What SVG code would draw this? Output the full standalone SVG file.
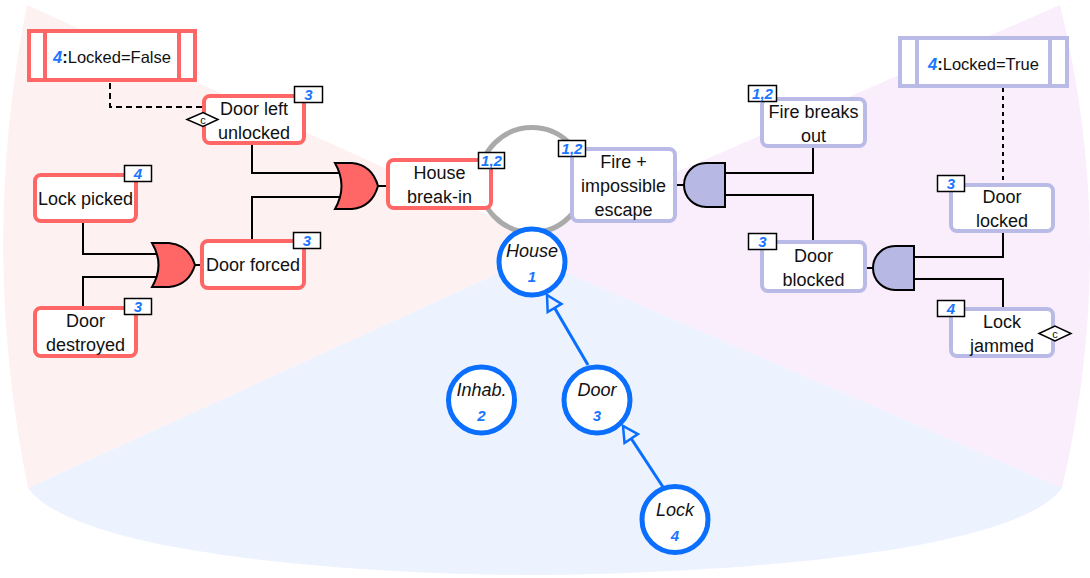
<svg xmlns="http://www.w3.org/2000/svg" width="1090" height="578" viewBox="0 0 1090 578">
<defs>
<style>
.txt{font-family:"Liberation Sans",Arial,sans-serif;font-size:18px;fill:#111;text-anchor:middle}
.red{fill:#fff;stroke:#ff6666;stroke-width:4}
.lav{fill:#fff;stroke:#babae6;stroke-width:4}
.badge{fill:#fff;stroke:#000;stroke-width:1.5}
.bt{font-family:"Liberation Sans",Arial,sans-serif;font-size:15px;font-weight:bold;font-style:italic;fill:#1a75ff;text-anchor:middle}
.wire{fill:none;stroke:#000;stroke-width:2}
.ent{fill:#fff;stroke:#0a6eff;stroke-width:5}
.et{font-family:"Liberation Sans",Arial,sans-serif;font-size:18px;font-style:italic;fill:#111;text-anchor:middle}
.en{font-family:"Liberation Sans",Arial,sans-serif;font-size:15px;font-weight:bold;font-style:italic;fill:#1a75ff;text-anchor:middle}
.dia{fill:#fff;stroke:#000;stroke-width:1.5}
.ct{font-family:"Liberation Sans",Arial,sans-serif;font-size:11px;fill:#111;text-anchor:middle}
</style>
<marker id="tri" viewBox="0 0 20 20" refX="17" refY="10" markerWidth="20" markerHeight="20" markerUnits="userSpaceOnUse" orient="auto">
<path d="M17,10 L2,2 L2,18 Z" fill="#ebf2fe" stroke="#0a6eff" stroke-width="2.5" stroke-linejoin="miter"/>
</marker>
</defs>
<g id="background">
<path d="M532,235 L27,5 Q-21,246 28,488 L532,258 Z" fill="#fef1f1"/>
<path d="M532,235 L1060,5 Q1119,246 1062,488 L532,258 Z" fill="#faeefd"/>
<path d="M532,258 L28,488 C80,560 400,575 532,575 C664,575 1010,560 1062,488 Z" fill="#ecf2fe"/>
<circle cx="532" cy="180" r="52.5" fill="#fff" stroke="#aaaaaa" stroke-width="5"/>
</g>
<g id="connectors">
<path class="wire" d="M252,145 V173 H341"/>
<path class="wire" d="M252,239 V197 H341"/>
<path class="wire" d="M378,186 H388"/>
<path class="wire" d="M83,223 V254 H158"/>
<path class="wire" d="M83,306 V277 H158"/>
<path class="wire" d="M195,265 H202"/>
<path class="wire" d="M813,148 V173 H725"/>
<path class="wire" d="M813,240 V195 H725"/>
<path class="wire" d="M675,185 H684"/>
<path class="wire" d="M1003,233 V257 H914"/>
<path class="wire" d="M1003,307 V279 H914"/>
<path class="wire" d="M865,268 H873"/>
<path d="M110,83 V107 H202" fill="none" stroke="#000" stroke-width="2" stroke-dasharray="6 4"/>
<path d="M1003,88 V183" fill="none" stroke="#000" stroke-width="2" stroke-dasharray="4 4"/>
<line x1="588" y1="365" x2="547" y2="295" stroke="#0a6eff" stroke-width="3" marker-end="url(#tri)"/>
<line x1="663" y1="487" x2="623" y2="426" stroke="#0a6eff" stroke-width="3" marker-end="url(#tri)"/>
</g>
<g id="gate-or-top">
<path d="M335,163 L352,163 Q372,165 378,186 Q372,207 352,209 L335,209 Q348,186 335,163 Z" fill="#ff6666" stroke="#000" stroke-width="2"/>
</g>
<g id="gate-or-bottom">
<path d="M152,243 L169,243 Q189,245 195,265 Q189,285 169,287 L152,287 Q165,265 152,243 Z" fill="#ff6666" stroke="#000" stroke-width="2"/>
</g>
<g id="gate-and-top">
<path d="M725,163 L706,163 A22,22 0 0 0 706,207 L725,207 Z" fill="#b8b8e4" stroke="#000" stroke-width="2"/>
</g>
<g id="gate-and-bottom">
<path d="M914,246 L895,246 A22,22 0 0 0 895,290 L914,290 Z" fill="#b8b8e4" stroke="#000" stroke-width="2"/>
</g>
<g id="cond-locked-false">
<rect x="29" y="31" width="166" height="49" fill="#fff" stroke="#ff6666" stroke-width="4"/>
<line x1="45" y1="31" x2="45" y2="80" stroke="#ff6666" stroke-width="4"/>
<line x1="179" y1="31" x2="179" y2="80" stroke="#ff6666" stroke-width="4"/>
<text x="112" y="63" class="txt" style="font-size:16.5px"><tspan font-weight="bold" font-style="italic" fill="#1a75ff">4</tspan><tspan font-weight="bold">:</tspan>Locked=False</text>
</g>
<g id="door-left-unlocked">
<rect x="204" y="96" width="100" height="47" rx="6" class="red"/>
<text x="254" y="115" class="txt">Door left</text>
<text x="254" y="139" class="txt">unlocked</text>
<rect x="294.5" y="86.5" width="28" height="16" class="badge"/>
<text x="308.5" y="100" class="bt">3</text>
<polygon points="187,119.5 203,112.5 218,119.5 203,126.5" class="dia"/>
<text x="203" y="123.5" class="ct">c</text>
</g>
<g id="lock-picked">
<rect x="35" y="175" width="101" height="46" rx="6" class="red"/>
<text x="85.5" y="204.5" class="txt">Lock picked</text>
<rect x="124.5" y="165.5" width="27" height="16" class="badge"/>
<text x="138" y="179" class="bt">4</text>
</g>
<g id="door-destroyed">
<rect x="35" y="308" width="101" height="48" rx="6" class="red"/>
<text x="85.5" y="327" class="txt">Door</text>
<text x="85.5" y="351" class="txt">destroyed</text>
<rect x="124.5" y="298.5" width="27" height="16" class="badge"/>
<text x="138" y="312" class="bt">3</text>
</g>
<g id="door-forced">
<rect x="202" y="241" width="102" height="47" rx="6" class="red"/>
<text x="253" y="271" class="txt">Door forced</text>
<rect x="293.5" y="232.5" width="27" height="16" class="badge"/>
<text x="307" y="246" class="bt">3</text>
</g>
<g id="house-break-in">
<rect x="388" y="160" width="103" height="48" rx="6" class="red"/>
<text x="439.5" y="179" class="txt">House</text>
<text x="439.5" y="203" class="txt">break-in</text>
<rect x="478.5" y="152.5" width="26" height="16" class="badge"/>
<text x="491.5" y="166" class="bt">1,2</text>
</g>
<g id="fire-impossible-escape">
<rect x="572" y="149" width="103" height="72" rx="6" class="lav"/>
<text x="623.5" y="168" class="txt">Fire +</text>
<text x="623.5" y="192" class="txt">impossible</text>
<text x="623.5" y="216" class="txt">escape</text>
<rect x="558.5" y="140.5" width="27" height="16" class="badge"/>
<text x="572" y="154" class="bt">1,2</text>
</g>
<g id="fire-breaks-out">
<rect x="762" y="99" width="103" height="47" rx="6" class="lav"/>
<text x="813.5" y="118" class="txt">Fire breaks</text>
<text x="813.5" y="142" class="txt">out</text>
<rect x="748.5" y="85.5" width="28" height="16" class="badge"/>
<text x="762.5" y="99" class="bt">1,2</text>
</g>
<g id="cond-locked-true">
<rect x="900" y="38" width="167" height="48" fill="#fff" stroke="#babae6" stroke-width="4"/>
<line x1="917" y1="38" x2="917" y2="86" stroke="#babae6" stroke-width="4"/>
<line x1="1050" y1="38" x2="1050" y2="86" stroke="#babae6" stroke-width="4"/>
<text x="983.5" y="70" class="txt" style="font-size:16.5px"><tspan font-weight="bold" font-style="italic" fill="#1a75ff">4</tspan><tspan font-weight="bold">:</tspan>Locked=True</text>
</g>
<g id="door-locked">
<rect x="951" y="185" width="102" height="46" rx="6" class="lav"/>
<text x="1002" y="203" class="txt">Door</text>
<text x="1002" y="227" class="txt">locked</text>
<rect x="937.5" y="175.5" width="27" height="16" class="badge"/>
<text x="951" y="189" class="bt">3</text>
</g>
<g id="door-blocked">
<rect x="762" y="242" width="103" height="49" rx="6" class="lav"/>
<text x="813.5" y="262" class="txt">Door</text>
<text x="813.5" y="286" class="txt">blocked</text>
<rect x="748.5" y="233.5" width="28" height="16" class="badge"/>
<text x="762.5" y="247" class="bt">3</text>
</g>
<g id="lock-jammed">
<rect x="951" y="309" width="102" height="47" rx="6" class="lav"/>
<text x="1002" y="328" class="txt">Lock</text>
<text x="1002" y="352" class="txt">jammed</text>
<rect x="937.5" y="300.5" width="27" height="16" class="badge"/>
<text x="951" y="314" class="bt">4</text>
<polygon points="1039,333.5 1055,326 1071,333.5 1055,341" class="dia"/>
<text x="1055" y="337.5" class="ct">c</text>
</g>
<g id="entity-house">
<circle cx="532" cy="262" r="33" class="ent"/>
<text x="532" y="257" class="et">House</text>
<text x="532" y="282" class="en">1</text>
</g>
<g id="entity-inhab">
<circle cx="481.5" cy="400" r="33" class="ent"/>
<text x="481.5" y="396" class="et">Inhab.</text>
<text x="481.5" y="421" class="en">2</text>
</g>
<g id="entity-door">
<circle cx="597" cy="400" r="33" class="ent"/>
<text x="597" y="396" class="et">Door</text>
<text x="597" y="421" class="en">3</text>
</g>
<g id="entity-lock">
<circle cx="675" cy="519.5" r="33" class="ent"/>
<text x="675" y="515.5" class="et">Lock</text>
<text x="675" y="540.5" class="en">4</text>
</g>
</svg>
